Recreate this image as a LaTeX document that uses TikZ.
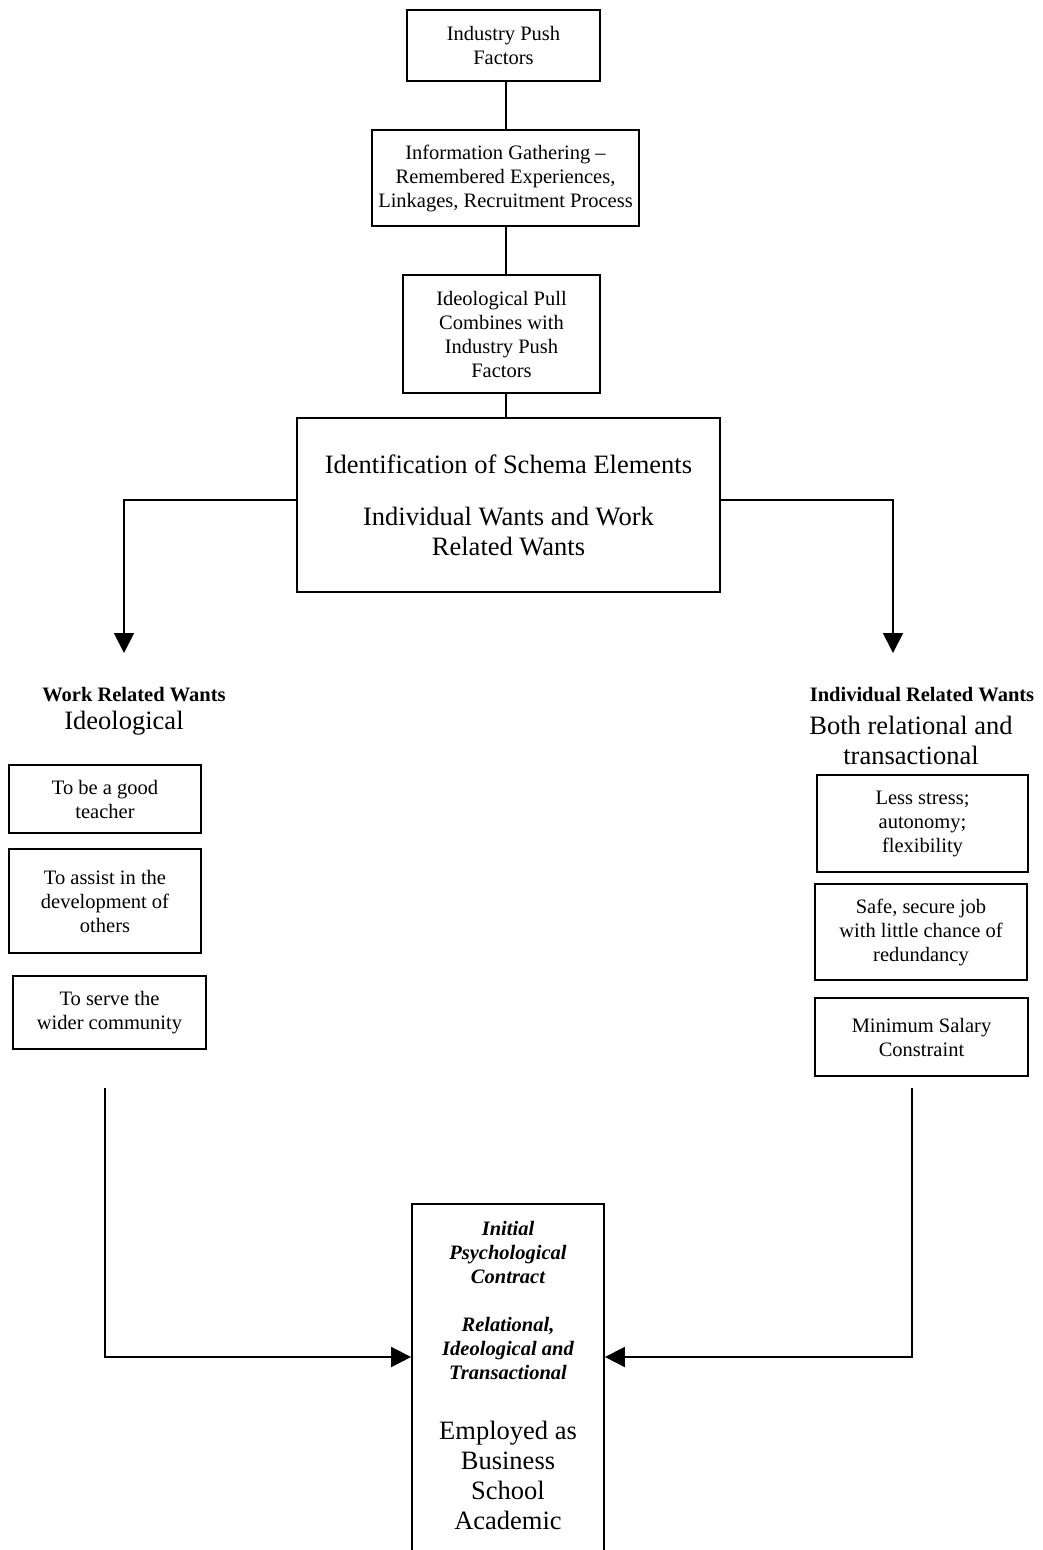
\documentclass[tikz,border=0pt]{standalone}
\usepackage{fontspec}
\setmainfont{Liberation Serif}
\usetikzlibrary{arrows.meta,calc}
\newcommand\fsmall{\fontsize{20.5}{24}\selectfont}
\newcommand\flarge{\fontsize{26.5}{30}\selectfont}
\begin{document}
\begin{tikzpicture}[x=1pt,y=-1pt,
  box/.style={draw,line width=1.8pt,inner sep=0pt,align=center,font=\fsmall},
  link/.style={line width=2pt},
  arrow/.style={line width=1.8pt,-{Triangle[length=20pt,width=20pt]}},
  heading/.style={inner sep=0pt,align=center,font=\fsmall\bfseries},
  subhead/.style={inner sep=0pt,align=center,font=\flarge}]
\useasboundingbox (0,0) rectangle (1043,1550);

% main chain
\node[box,minimum width=193pt,minimum height=71pt] (b1) at (503.5,45.5)
  {Industry Push\\Factors};
\node[box,minimum width=267pt,minimum height=96pt] (b2) at (505.5,178)
  {Information Gathering --\\Remembered Experiences,\\Linkages, Recruitment Process};
\node[box,minimum width=197pt,minimum height=118pt] (b3) at (501.5,334)
  {Ideological Pull\\Combines with\\Industry Push\\Factors};
\node[box,minimum width=423pt,minimum height=174pt,font=\flarge] (b4) at (508.5,505)
  {Identification of Schema Elements\\[22pt]Individual Wants and Work\\Related Wants};

% vertical spine, all on the axis of the second box
\draw[link] (b2.north) -- (b2.north |- b1.south);
\draw[link] (b2.south) -- (b2.south |- b3.north);
\draw[link] (b3.south -| b2.south) -- (b4.north -| b2.south);

% branch targets
\coordinate (wl) at (124,653);
\coordinate (wr) at (893,653);
\draw[arrow] ($(b4.west)+(0,-5)$) -| (wl);
\draw[arrow] ($(b4.east)+(0,-5)$) -| (wr);

% work related wants
\node[heading] (wh) at (134,695) {Work Related Wants};
\node[subhead] (ws) at (124,723) {Ideological};
\node[box,minimum width=192pt,minimum height=68pt] (l1) at (105,799)
  {To be a good\\teacher};
\node[box,minimum width=192pt,minimum height=104pt] (l2) at (105,901)
  {To assist in the\\development of\\others};
\node[box,minimum width=193pt,minimum height=73pt] (l3) at (109.5,1012.5)
  {To serve the\\wider community};

% individual related wants
\node[heading] (ih) at (922,695) {Individual Related Wants};
\node[subhead] (is) at (911,740) {Both relational and\\transactional};
\node[box,minimum width=211pt,minimum height=97pt] (r1) at (922.5,823.5)
  {Less stress;\\autonomy;\\flexibility};
\node[box,minimum width=212pt,minimum height=96pt] (r2) at (921,932)
  {Safe, secure job\\with little chance of\\redundancy};
\node[box,minimum width=213pt,minimum height=78pt] (r3) at (921.5,1037)
  {Minimum Salary\\Constraint};

% resulting contract
\node[box,anchor=north,minimum width=192pt,inner ysep=15pt] (emp) at (508,1203)
  {\parbox[c][330pt][t]{190pt}{\centering
   {\bfseries\itshape\strut Initial\\Psychological\\Contract\\[24pt]
    Relational,\\Ideological and\\Transactional\par}
   \vspace{30pt}
   {\flarge Employed as\\Business\\School\\Academic\par}}};

\coordinate (ll) at (105,1088);
\coordinate (rl) at (912,1088);
\coordinate (ein) at (0,1357);
\draw[arrow] (ll) |- (emp.west |- ein);
\draw[arrow] (rl) |- (emp.east |- ein);
\end{tikzpicture}
\end{document}
